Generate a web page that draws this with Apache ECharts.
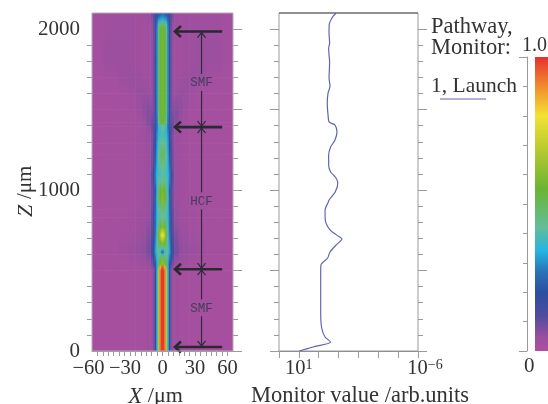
<!DOCTYPE html>
<html><head><meta charset="utf-8">
<style>html,body{margin:0;padding:0;background:#fff}#c{width:548px;height:404px}</style>
<script src="https://cdn.jsdelivr.net/npm/echarts@6/dist/echarts.min.js"></script>
</head><body><div id="c"></div>
<script>
// ---------- data ----------
const xOffsets = [0,1.5,3,4.5,6,7.5,9,11,15,19,25,31,41,55,65]; // |X| cell edges, µm
const zRows = [0,500,522,540,570,600,615,635,670,720,770,830,880,950,1000,1050,1100,1150,1220,1290,1350,1395,1420,1500,1600,1700,1800,1900,2000,2030,2050,2075,2100];
const fieldRows = [
 [1,.93,.68,.36,.18,.07,.04,.03,.02,.02,.02,.015,.015,.015],
 [1,.93,.68,.36,.18,.07,.04,.03,.02,.02,.02,.015,.015,.015],
 [.95,.85,.6,.34,.18,.1,.06,.04,.03,.02,.02,.02,.015,.015],
 [.6,.58,.5,.34,.2,.12,.08,.05,.035,.03,.025,.02,.02,.015],
 [.58,.56,.46,.35,.27,.17,.1,.06,.045,.035,.03,.02,.02,.015],
 [.36,.42,.42,.38,.3,.2,.12,.08,.05,.045,.035,.03,.02,.015],
 [.25,.36,.42,.4,.32,.22,.13,.08,.06,.05,.04,.03,.02,.015],
 [.4,.42,.44,.4,.32,.21,.13,.08,.06,.05,.04,.03,.02,.015],
 [.58,.55,.48,.4,.3,.19,.12,.08,.055,.045,.035,.03,.02,.015],
 [.78,.7,.56,.4,.28,.17,.11,.07,.05,.04,.03,.025,.02,.015],
 [.58,.55,.47,.38,.26,.16,.1,.06,.04,.03,.025,.02,.02,.015],
 [.42,.42,.4,.36,.27,.18,.1,.05,.035,.03,.025,.02,.02,.015],
 [.46,.45,.42,.36,.25,.16,.09,.05,.035,.03,.025,.02,.02,.015],
 [.58,.56,.5,.38,.24,.14,.08,.045,.03,.025,.02,.02,.02,.015],
 [.56,.55,.48,.36,.22,.13,.08,.045,.03,.025,.02,.02,.02,.015],
 [.44,.44,.42,.36,.28,.16,.09,.045,.03,.025,.02,.02,.02,.015],
 [.4,.4,.39,.36,.29,.18,.1,.045,.03,.025,.02,.02,.02,.015],
 [.44,.43,.4,.34,.25,.14,.08,.045,.03,.025,.02,.02,.02,.015],
 [.5,.48,.42,.33,.22,.13,.08,.045,.03,.025,.02,.02,.02,.015],
 [.44,.43,.39,.32,.2,.12,.07,.045,.03,.025,.02,.02,.02,.015],
 [.38,.38,.36,.3,.18,.11,.07,.045,.03,.025,.02,.02,.02,.015],
 [.42,.4,.36,.27,.17,.12,.09,.06,.035,.025,.02,.02,.02,.015],
 [.55,.52,.44,.28,.16,.1,.09,.07,.04,.025,.02,.02,.02,.015],
 [.56,.54,.48,.3,.17,.09,.065,.07,.06,.035,.025,.02,.02,.015],
 [.56,.54,.48,.3,.17,.09,.05,.04,.05,.05,.03,.022,.02,.02],
 [.56,.54,.48,.3,.17,.09,.05,.03,.03,.04,.045,.04,.025,.02],
 [.56,.54,.48,.3,.17,.09,.05,.03,.025,.03,.035,.04,.04,.025],
 [.56,.54,.48,.3,.17,.09,.05,.03,.025,.03,.035,.04,.04,.025],
 [.55,.53,.46,.3,.17,.09,.05,.03,.025,.03,.035,.035,.03,.025],
 [.5,.47,.4,.28,.17,.1,.05,.03,.025,.03,.035,.035,.03,.025],
 [.38,.36,.33,.26,.17,.1,.06,.04,.03,.03,.035,.035,.03,.025],
 [.3,.29,.26,.22,.16,.11,.07,.04,.03,.03,.035,.035,.03,.025],
 [.22,.21,.2,.18,.15,.11,.08,.05,.03,.03,.035,.035,.03,.025]
];
const monitorZ = [2100,2075,2030,1975,1913,1882,1839,1795,1733,1696,1646,1602,1540,1466,1422,1404,1360,1311,1267,1217,1155,1112,1075,1043,988,938,925,876,814,752,720,696,658,615,578,534,484,236,143,87,56,25,0];
const monitorX = [2.87,2.70,2.53,2.52,2.55,2.50,2.52,2.55,2.53,2.52,2.57,2.47,2.43,2.47,2.53,2.82,2.92,2.82,2.60,2.50,2.50,2.60,2.87,2.96,2.83,2.52,2.48,2.32,2.33,2.57,2.91,3.17,2.87,2.57,2.45,2.11,2.10,2.10,2.15,2.32,2.60,1.71,1.02];
const xTickLabels = [-60,-30,0,30,60];
const xLabelRich = {'-60':'{a|−60}','-30':'{c|−30}','0':'{n|0}','30':'{n|30}','60':'{n|60}'};
const zMajorTicks = [0,500,1000,1500,2000];
const zMinorTicks = [100,200,300,400,600,700,800,900,1100,1200,1300,1400,1600,1700,1800,1900];
const zTickLabels = [0,1000,2000];
const monitorTicks = [0,1,2,3,4,5,6,7];
const monitorTickLabels = {1:'{b|10}{s|1}', 7:'{p|10}{s|−6}'};
const boundaryZ = [1985,1391,508,25];
const fibreNames = ['SMF','HCF','SMF'];
const fibreLabelZ = [1665,930,265];
const colorStops = [[0,'#ad4f9f'],[.05,'#984f9f'],[.12,'#4f4c9f'],[.2,'#2b4f9f'],[.27,'#2a72b8'],[.34,'#25b4e2'],[.42,'#62bd9a'],[.55,'#6ab433'],[.68,'#b4c92f'],[.8,'#f3e232'],[.9,'#f08c2c'],[1,'#e6302e']];

// ---------- helpers ----------
const hex=c=>[1,3,5].map(i=>parseInt(c.substr(i,2),16));
function colorOf(v){
  for(let i=1;i<colorStops.length;i++) if(v<=colorStops[i][0]){
    const [a,ca]=colorStops[i-1],[b,cb]=colorStops[i],t=(v-a)/(b-a),A=hex(ca),B=hex(cb);
    return 'rgb('+A.map((q,k)=>Math.round(q+(B[k]-q)*t)).join(',')+')';
  }
  return colorStops[colorStops.length-1][1];
}
const cells=[];
for(let r=0;r<zRows.length-1;r++) for(let c=0;c<xOffsets.length-1;c++) for(const s of [-1,1]){
  cells.push([s*xOffsets[c],s*xOffsets[c+1],zRows[r],zRows[r+1],fieldRows[r][c],fieldRows[r+1][c]]);
}
const AX='#9a9a9a', SERIF='"Liberation Serif","DejaVu Serif",serif', TXT='#333';
const grids=[
 {left:92,top:13,width:141,height:338,outerBoundsMode:'none'},
 {left:279,top:13,width:139,height:338,outerBoundsMode:'none'},
 {left:527,top:57,width:8,height:294,outerBoundsMode:'none'}
];
function zAxis(g,pos,vals,len,labels){
 return {type:'value',gridIndex:g,position:pos,min:0,max:2100,
  axisLine:{show:false},splitLine:{show:false},
  axisTick:{show:true,length:len,customValues:vals,lineStyle:{color:AX,width:1}},
  axisLabel:labels?{show:true,customValues:labels,fontFamily:SERIF,fontSize:21,color:TXT,margin:12,formatter:v=>String(v),showMinLabel:true,showMaxLabel:true}:{show:false}};
}
const panelY=g=>[zAxis(g,'left',zMajorTicks,9,zTickLabels),zAxis(g,'left',zMinorTicks,5),zAxis(g,'right',zMajorTicks,9),zAxis(g,'right',zMinorTicks,5)];
const yAxes=[...panelY(0),...panelY(1).map((a,i)=>i==0?{...a,axisLabel:{show:false}}:a),
 {type:'value',gridIndex:2,position:'left',min:0,max:1,
  axisLine:{show:true,lineStyle:{color:AX,width:1}},splitLine:{show:false},axisLabel:{show:false},
  axisTick:{show:true,length:8,customValues:[0,1],lineStyle:{color:AX}}},
 {type:'value',gridIndex:2,position:'left',min:0,max:1,
  axisLine:{show:false},splitLine:{show:false},axisLabel:{show:false},
  axisTick:{show:true,length:4,customValues:[.1,.2,.3,.4,.5,.6,.7,.8,.9],lineStyle:{color:AX}}}
];
const lab={fontFamily:SERIF,fontSize:20.5,color:TXT};
const xAxes=[
 {type:'value',gridIndex:0,min:-65,max:65,
  axisLine:{show:true,onZero:false,lineStyle:{color:'#8f8f8f'}},splitLine:{show:false},
  axisTick:{show:true,length:5,customValues:[-60,-55,-50,-45,-40,-35,-30,-25,-20,-15,-10,-5,0,5,10,15,20,25,30,35,40,45,50,55,60],lineStyle:{color:AX}},
  axisLabel:{show:true,customValues:xTickLabels,margin:7,showMinLabel:true,showMaxLabel:true,hideOverlap:false,
   formatter:v=>xLabelRich[String(v)],
   rich:{n:lab,a:{...lab,padding:[0,18,0,0]},c:{...lab,padding:[0,10,0,0]}}},
  name:'{i|X} /μm',nameLocation:'middle',nameGap:34,
  nameTextStyle:{rich:{i:{fontFamily:SERIF,fontStyle:'italic',fontSize:23,color:TXT}},fontFamily:SERIF,fontSize:22,color:TXT,padding:[0,14,0,0]}},
 {type:'value',gridIndex:1,min:0,max:7,
  axisLine:{show:true,onZero:false,lineStyle:{color:'#8f8f8f'}},splitLine:{show:false},
  axisTick:{show:true,length:7,customValues:monitorTicks,lineStyle:{color:AX}},
  axisLabel:{show:true,customValues:[1,7],margin:7,color:TXT,showMinLabel:true,showMaxLabel:true,formatter:v=>monitorTickLabels[v]||'',
   rich:{b:lab,p:{...lab,padding:[0,0,0,14]},s:{fontFamily:SERIF,fontSize:14,color:TXT,verticalAlign:'top',padding:[0,0,8,0]}}},
  name:'Monitor value /arb.units',nameLocation:'middle',nameGap:33,
  nameTextStyle:{fontFamily:SERIF,fontSize:22.5,color:TXT,padding:[0,0,0,23]}},
 {type:'value',gridIndex:2,min:0,max:1,show:false}
];
const series=[
 {type:'custom',name:'field',xAxisIndex:0,yAxisIndex:0,data:cells,silent:true,clip:true,
  encode:{x:[0,1],y:[2,3]},
  renderItem:(p,api)=>{
   const a=api.coord([api.value(0),api.value(3)]),b=api.coord([api.value(1),api.value(2)]);
   const x=Math.min(a[0],b[0]),w=Math.abs(a[0]-b[0]);
   const c0=colorOf(api.value(5)),c1=colorOf(api.value(4));
   return {type:'rect',shape:{x:x-.3,y:a[1]-.3,width:w+.6,height:b[1]-a[1]+.6},
    style:{fill:{type:'linear',x:0,y:0,x2:0,y2:1,colorStops:[{offset:0,color:c0},{offset:1,color:c1}]}}};
  }},
 {type:'line',name:'1, Launch',xAxisIndex:1,yAxisIndex:4,data:monitorX.map((x,i)=>[x,monitorZ[i]]),
  showSymbol:false,smooth:.25,lineStyle:{color:'#5e66b4',width:1.2},silent:true},
 {type:'custom',name:'boundaries',xAxisIndex:0,yAxisIndex:0,data:boundaryZ.map(z=>[z]),silent:true,encode:{y:0},
  renderItem:(p,api)=>{
   const z=api.value(0),t=api.coord([11.5,z]),e=api.coord([55,z]);
   return {type:'group',children:[
    {type:'line',shape:{x1:t[0],y1:t[1],x2:e[0],y2:e[1]},style:{stroke:'#29292f',lineWidth:2.6}},
    {type:'polyline',shape:{points:[[t[0]+6,t[1]-5.5],[t[0],t[1]],[t[0]+6,t[1]+5.5]]},style:{stroke:'#29292f',lineWidth:2.6,fill:null}}
   ]};
  }},
 {type:'custom',name:'spans',xAxisIndex:0,yAxisIndex:0,data:fibreNames.map((f,i)=>[fibreLabelZ[i],boundaryZ[i],boundaryZ[i+1],i]),
  silent:true,encode:{y:[0,1,2]},
  renderItem:(p,api)=>{
   const z=api.value(0),top=api.coord([36,api.value(1)]),bot=api.coord([36,api.value(2)]),m=api.coord([36,z]);
   const stroke={stroke:'#2d2d3a',lineWidth:1.2,fill:null};
   return {type:'group',children:[
    {type:'line',shape:{x1:top[0],y1:top[1]+1,x2:m[0],y2:m[1]-9},style:stroke},
    {type:'line',shape:{x1:m[0],y1:m[1]+8,x2:bot[0],y2:bot[1]-1},style:stroke},
    {type:'polyline',shape:{points:[[top[0]-4,top[1]+6],[top[0],top[1]+1],[top[0]+4,top[1]+6]]},style:stroke},
    {type:'polyline',shape:{points:[[bot[0]-4,bot[1]-6],[bot[0],bot[1]-1],[bot[0]+4,bot[1]-6]]},style:stroke},
    {type:'text',style:{x:m[0],y:m[1],text:fibreNames[api.value(3)],align:'center',verticalAlign:'middle',fontFamily:'"Liberation Mono",monospace',fontSize:12.5,fill:'#3f3f5a'}}
   ]};
  }}
];
const chart=echarts.init(document.getElementById('c'),null,{renderer:'canvas'});
chart.setOption({
 animation:false,backgroundColor:'#fff',
 grid:grids,xAxis:xAxes,yAxis:yAxes,series,
 graphic:[
  {type:'rect',shape:{x:92,y:13,width:141,height:338},style:{fill:null,stroke:'#b9a7b9',lineWidth:1},silent:true,z:5},
  {type:'rect',shape:{x:279,y:13,width:139,height:338},style:{fill:null,stroke:AX,lineWidth:1},silent:true},
  {type:'line',shape:{x1:279,y1:13,x2:418,y2:13},style:{stroke:'#555',lineWidth:1}},
  {type:'rect',shape:{x:535,y:57,width:13,height:294},silent:true,
   style:{fill:{type:'linear',x:0,y:1,x2:0,y2:0,colorStops:colorStops.map(s=>({offset:s[0],color:s[1]}))}}},
  {type:'text',style:{x:431,y:17,text:'Pathway,\nMonitor:',fontFamily:SERIF,fontSize:22.5,lineHeight:21,fill:TXT}},
  {type:'text',style:{x:431,y:75,text:'1, Launch',fontFamily:SERIF,fontSize:21.5,fill:TXT}},
  {type:'line',shape:{x1:440,y1:99,x2:486,y2:99},style:{stroke:'#5e66b4',lineWidth:1.2}},
  {type:'text',style:{x:522,y:36,text:'1.0',fontFamily:SERIF,fontSize:20,fill:TXT}},
  {type:'text',style:{x:524,y:356,text:'0',fontFamily:SERIF,fontSize:21,fill:TXT}},
  {type:'text',rotation:Math.PI/2,x:15,y:217,style:{x:0,y:0,text:'Z',fontFamily:SERIF,fontStyle:'italic',fontSize:22,fill:TXT}},
  {type:'text',rotation:Math.PI/2,x:15,y:199,style:{x:0,y:0,text:'/μm',fontFamily:SERIF,fontSize:21,fill:TXT}}
 ]
});
</script></body></html>
